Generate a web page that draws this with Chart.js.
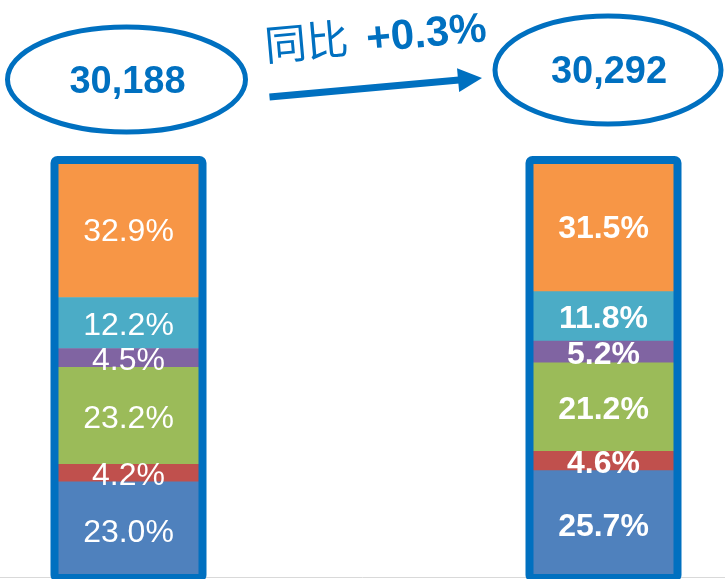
<!DOCTYPE html>
<html lang="zh-CN">
<head>
  <meta charset="UTF-8" />
  <title>同比</title>
  <script src="https://cdn.jsdelivr.net/npm/chart.js"></script>
  <style>
    html, body { margin: 0; padding: 0; background: #fff; }
    #wrap { width: 725px; height: 579px; position: relative; }
  </style>
</head>
<body>
  <div id="wrap"><canvas id="grafico"></canvas></div>

  <script>
    // two periods, each bar is 100% split in six parts
    const periods = ['上年', '本年'];
    const totals = [30188, 30292];

    // bottom to top
    const partBlue   = [23.0, 25.7];
    const partRed    = [4.2, 4.6];
    const partGreen  = [23.2, 21.2];
    const partPurple = [4.5, 5.2];
    const partTeal   = [12.2, 11.8];
    const partOrange = [32.9, 31.5];

    const parts = [partBlue, partRed, partGreen, partPurple, partTeal, partOrange];
    const partColors = ['#4F81BD', '#C0504D', '#9BBB59', '#8064A2', '#4BACC6', '#F79646'];
    const frameBlue = '#0070C0';

    // ellipse placement relative to each bar's top
    const bubbleShift = [{ dx: -2, dy: -80.5, rx: 119, ry: 52.5 }, { dx: 4.5, dy: -90, rx: 113, ry: 54 }];

    const overlay = {
      id: 'overlay',
      beforeDatasetsDraw(chart) {
        const { ctx, scales: { y } } = chart;
        ctx.save();
        ctx.strokeStyle = '#D9D9D9';
        ctx.lineWidth = 1;
        ctx.beginPath();
        ctx.moveTo(0, y.bottom - 0.5);
        ctx.lineTo(chart.width, y.bottom - 0.5);
        ctx.stroke();
        ctx.restore();
      },
      afterDatasetsDraw(chart) {
        const ctx = chart.ctx;
        const n = chart.data.datasets.length;
        ctx.save();

        // percentage labels
        ctx.fillStyle = '#fff';
        ctx.textAlign = 'center';
        ctx.textBaseline = 'middle';
        chart.data.datasets.forEach((ds, i) => {
          chart.getDatasetMeta(i).data.forEach((bar, j) => {
            ctx.font = (j === 1 ? 'bold ' : '') + '32px "Liberation Sans", Arial, sans-serif';
            ctx.fillText(ds.data[j].toFixed(1) + '%', bar.x, (bar.y + bar.base) / 2 + 3);
          });
        });

        // frames around the bars
        const topBars = chart.getDatasetMeta(n - 1).data;
        const bottomBars = chart.getDatasetMeta(0).data;
        ctx.strokeStyle = frameBlue;
        ctx.lineWidth = 8;
        topBars.forEach((bar, j) => {
          const w = bar.width;
          ctx.beginPath();
          ctx.roundRect(bar.x - w / 2, bar.y, w, bottomBars[j].base - bar.y, 3);
          ctx.stroke();
        });

        // ellipses with totals
        const bubbles = topBars.map((bar, j) => ({
          cx: bar.x + bubbleShift[j].dx,
          cy: bar.y + bubbleShift[j].dy,
          rx: bubbleShift[j].rx,
          ry: bubbleShift[j].ry
        }));
        ctx.lineWidth = 5;
        ctx.fillStyle = frameBlue;
        ctx.font = 'bold 38px "Liberation Sans", Arial, sans-serif';
        bubbles.forEach((b, j) => {
          ctx.beginPath();
          ctx.ellipse(b.cx, b.cy, b.rx, b.ry, 0, 0, Math.PI * 2);
          ctx.stroke();
          ctx.fillText(totals[j].toLocaleString('en-US'), b.cx + 1, b.cy + 3);
        });

        // arrow
        const a = bubbles[0], b = bubbles[1];
        const x0 = a.cx + a.rx + 24, y0 = a.cy + 17.5;
        const x1 = b.cx - b.rx - 13, y1 = b.cy + 8;
        const ang = Math.atan2(y1 - y0, x1 - x0);
        const headLen = 24, headHalf = 12;
        ctx.save();
        ctx.translate(x0, y0);
        ctx.rotate(ang);
        const len = Math.hypot(x1 - x0, y1 - y0);
        ctx.fillRect(0, -3.5, len - headLen + 1, 7);
        ctx.beginPath();
        ctx.moveTo(len, 0);
        ctx.lineTo(len - headLen, -headHalf);
        ctx.lineTo(len - headLen, headHalf);
        ctx.closePath();
        ctx.fill();
        ctx.restore();

        // year-on-year text
        const yoy = (totals[1] - totals[0]) / totals[0] * 100;
        ctx.save();
        ctx.translate(x0 - 3.5, y0 - 36);
        ctx.rotate(ang);
        ctx.textAlign = 'left';
        ctx.textBaseline = 'alphabetic';
        ctx.font = '42px "Noto Sans CJK SC", sans-serif';
        ctx.fillText('同比', 0, 0);
        const w1 = ctx.measureText('同比').width;
        ctx.font = 'bold 42px "Liberation Sans", Arial, sans-serif';
        ctx.fillText((yoy >= 0 ? '+' : '') + yoy.toFixed(1) + '%', w1 + 18, 0);
        ctx.restore();

        ctx.restore();
      }
    };

    new Chart(document.getElementById('grafico'), {
      type: 'bar',
      data: {
        labels: periods,
        datasets: parts.map((vals, i) => ({
          label: 'part' + (i + 1),
          data: vals,
          backgroundColor: partColors[i],
          borderWidth: 0,
          barThickness: 148,
          clip: false
        }))
      },
      options: {
        responsive: true,
        maintainAspectRatio: false,
        animation: false,
        layout: { padding: { left: 128.5, right: 121.5, top: 160, bottom: 1 } },
        plugins: {
          legend: { display: false },
          tooltip: { enabled: false }
        },
        scales: {
          x: { stacked: true, offset: false, display: false },
          y: { stacked: true, min: 0, max: 100, display: false }
        }
      },
      plugins: [overlay]
    });
  </script>
</body>
</html>
